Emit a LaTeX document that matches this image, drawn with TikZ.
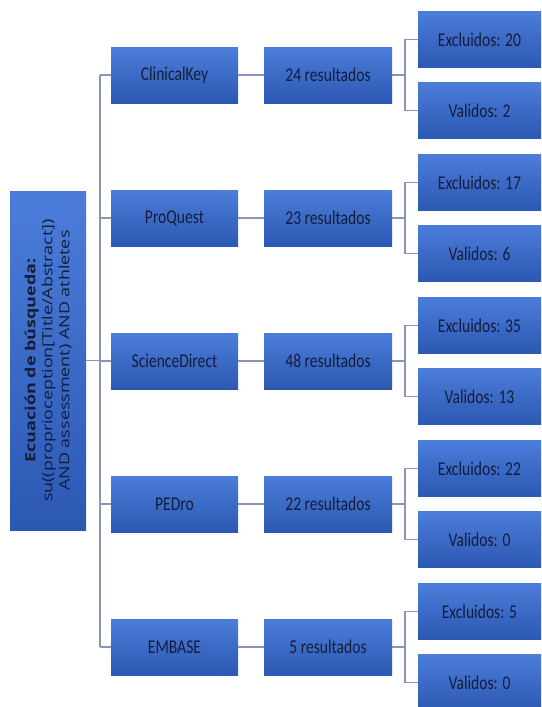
\documentclass[tikz,border=0pt]{standalone}
\usepackage{fontspec}
\newfontfamily\boxfont[FakeStretch=0.8]{Carlito}
\newfontfamily\eqfont[FakeStretch=1.28]{Open Sans}
\definecolor{boxtop}{HTML}{4C7DDA}
\definecolor{boxbot}{HTML}{2B58B3}
\definecolor{txt}{HTML}{141D3A}
\definecolor{conn}{HTML}{8A95B8}
\tikzset{
  bluebox/.style={rectangle, draw=none, top color=boxtop, bottom color=boxbot,
    minimum height=56pt, inner sep=0pt, text=txt,
    font=\boxfont\fontsize{19.5}{21}\selectfont},
  dbbox/.style={bluebox, minimum width=127pt},
  resbox/.style={bluebox, minimum width=128pt},
  outbox/.style={bluebox, minimum width=123pt},
  conn/.style={draw=conn, line width=1.3pt},
}
\begin{document}
\begin{tikzpicture}[x=1pt,y=-1pt]
\useasboundingbox (0,0) rectangle (541,707);
\fill[white] (0,0) rectangle (541,707);

\node[bluebox, minimum width=76pt, minimum height=339pt] (eq) at (48,360.5) {};
\node[rotate=90, align=center, text=txt, font=\eqfont\fontsize{14}{17}\selectfont] (eqtext) at (eq.center)
  {\textbf{Ecuación de búsqueda:}\\su((proprioception[Title/Abstract])\\AND assessment) AND athletes};

\foreach \i/\db/\res/\ex/\va [count=\k from 0] in {
  1/ClinicalKey/24/20/2,
  2/ProQuest/23/17/6,
  3/ScienceDirect/48/35/13,
  4/PEDro/22/22/0,
  5/EMBASE/5/5/0}{
  \pgfmathsetmacro{\yy}{75+143*\k}
  \node[dbbox] (db\i) at (174.5,\yy) {\db};
  \node[resbox] (res\i) at (328,\yy) {\res{} resultados};
  \node[outbox] (ex\i) at (479.5,\yy-35.5) {Excluidos: \ex};
  \node[outbox] (va\i) at (479.5,\yy+35.5) {Validos: \va};
  \coordinate (tr\i) at (100,\yy);
  \coordinate (br\i) at (405,\yy);
  \draw[conn] (db\i.west) -- (tr\i);
  \draw[conn] (db\i.east) -- (res\i.west);
  \draw[conn] (res\i.east) -- (br\i);
  \draw[conn] (ex\i.west) -- (ex\i.west -| br\i) -- (va\i.west -| br\i) -- (va\i.west);
}
\draw[conn] (tr1) -- (tr5);
\draw[conn] (eq.east) -- (eq.east -| tr1);
\end{tikzpicture}
\end{document}
